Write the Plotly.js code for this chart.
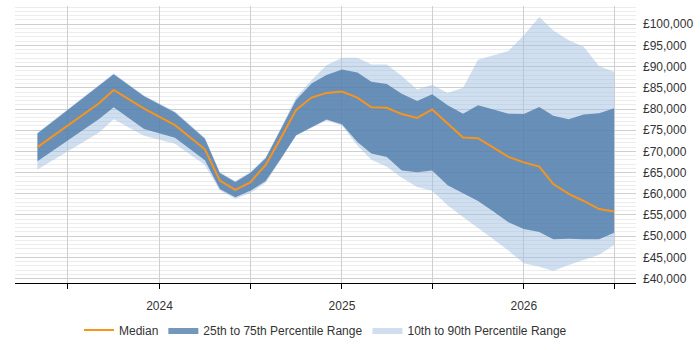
<!DOCTYPE html>
<html>
<head>
<meta charset="utf-8">
<script src="https://cdn.plot.ly/plotly-3.0.1.min.js"></script>
<style>
  html, body { margin: 0; padding: 0; background: #fff; }
  #chart { width: 700px; height: 350px; }
</style>
</head>
<body>
<div id="chart"></div>
<script>
// Monthly salary percentiles (GBP)
const months = [
  '2023-05-01', '2023-07-01', '2023-09-01', '2023-10-01', '2023-12-01',
  '2024-02-01', '2024-04-01', '2024-05-01', '2024-06-01', '2024-07-01',
  '2024-08-01', '2024-09-01', '2024-10-01', '2024-11-01', '2024-12-01',
  '2025-01-01', '2025-02-01', '2025-03-01', '2025-04-01', '2025-05-01',
  '2025-06-01', '2025-07-01', '2025-08-01', '2025-09-01', '2025-10-01',
  '2025-11-01', '2025-12-01', '2026-01-01', '2026-02-01', '2026-03-01',
  '2026-04-01', '2026-05-01', '2026-06-01', '2026-07-01'
];
const p10 = [
  65700, 70000, 74400, 77600, 73700,
  71800, 66800, 60800, 58800, 60200,
  62600, 68200, 73700, 75600, 77300,
  76100, 71400, 68000, 66400, 63800,
  61600, 60700, 57300, 54500, 52000,
  49300, 46600, 43600, 42800, 41800,
  43200, 44300, 45600, 47900
];
const p25 = [
  67700, 72600, 77600, 80400, 75300,
  73200, 67900, 61100, 59200, 60700,
  63000, 68400, 73800, 75700, 77500,
  76400, 72200, 69500, 68700, 65500,
  65100, 65500, 62000, 60100, 58300,
  55800, 53300, 51700, 51000, 49300,
  49400, 49300, 49300, 50800
];
const median = [
  71000, 76100, 81300, 84500, 80100,
  76200, 70500, 63100, 60900, 62700,
  66800, 73300, 79800, 82700, 83800,
  84100, 82700, 80400, 80300, 78800,
  77900, 79900, 76700, 73300, 73100,
  70800, 68700, 67400, 66400, 62300,
  60000, 58300, 56400, 55800
];
const p75 = [
  74200, 79700, 85400, 88200, 83000,
  79200, 73000, 64900, 62800, 64900,
  68400, 75300, 82100, 86000, 88000,
  89300, 88600, 86400, 85900, 83600,
  81900, 83500, 80900, 78900, 80900,
  79900, 78900, 78800, 80500, 78400,
  77600, 78700, 79000, 80200
];
const p90 = [
  74400, 79900, 85600, 88400, 83200,
  79400, 73200, 65100, 63000, 65100,
  68600, 75600, 82800, 86800, 90300,
  92100, 92100, 90500, 90500, 87800,
  84600, 85700, 83800, 85000, 91600,
  92600, 93700, 97400, 101700, 98500,
  96200, 94700, 90100, 88800
];

// Half-yearly ticks, labelled only at the start of each year
const tickDates = ['2023-07-01', '2024-01-01', '2024-07-01', '2025-01-01', '2025-07-01', '2026-01-01', '2026-07-01'];
const tickLabels = ['', '2024', '', '2025', '', '2026', ''];

const ORANGE = '#f7941d';
const DARK_FILL = 'rgba(70,116,166,0.75)';
const LIGHT_FILL = 'rgba(160,192,224,0.5)';

const traces = [
  { x: months, y: p10, type: 'scatter', mode: 'lines', line: { width: 0 },
    hoverinfo: 'skip', showlegend: false, fill: 'none' },
  { x: months, y: p90, type: 'scatter', mode: 'lines', line: { width: 0 },
    fill: 'tonexty', fillcolor: LIGHT_FILL, name: '10th to 90th Percentile Range',
    legendrank: 3 },
  { x: months, y: p25, type: 'scatter', mode: 'lines', line: { width: 0 },
    hoverinfo: 'skip', showlegend: false, fill: 'none' },
  { x: months, y: p75, type: 'scatter', mode: 'lines', line: { width: 0 },
    fill: 'tonexty', fillcolor: DARK_FILL, name: '25th to 75th Percentile Range',
    legendrank: 2 },
  { x: months, y: median, type: 'scatter', mode: 'lines',
    line: { color: ORANGE, width: 2 }, name: 'Median', legendrank: 1 }
];

const layout = {
  width: 700, height: 350,
  margin: { l: 15, r: 64, t: 6, b: 58 },
  paper_bgcolor: '#fff', plot_bgcolor: '#fff',
  font: { family: 'Liberation Sans, Arial, sans-serif', size: 12, color: '#333' },
  showlegend: true,
  legend: {
    orientation: 'h', x: 0.5, xanchor: 'center', y: -0.117, yanchor: 'top',
    font: { size: 12, color: '#333' }, itemwidth: 30, traceorder: 'normal'
  },
  xaxis: {
    type: 'date',
    range: ['2023-03-17', '2026-08-14'],
    tickvals: tickDates, ticktext: tickLabels,
    showgrid: true, gridcolor: '#cfcfcf', gridwidth: 1,
    showline: true, linecolor: '#000', linewidth: 1,
    ticks: 'outside', ticklen: 5, tickcolor: '#000',
    ticklabelstandoff: 7,
    zeroline: false, fixedrange: true
  },
  yaxis: {
    side: 'right',
    range: [38950, 104300],
    dtick: 5000, tick0: 40000,
    tickprefix: '£', tickformat: ',d',
    showgrid: true, gridcolor: '#cfcfcf', gridwidth: 1,
    minor: { dtick: 1000, showgrid: true, gridcolor: '#ececec', gridwidth: 1 },
    showline: false, zeroline: false, ticks: '',
    ticklabelstandoff: 6,
    fixedrange: true
  }
};

Plotly.newPlot('chart', traces, layout, { displayModeBar: false, staticPlot: true });
</script>
</body>
</html>
